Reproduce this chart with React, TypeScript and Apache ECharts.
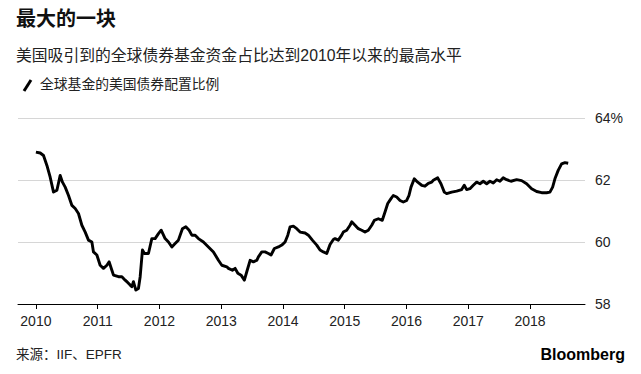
import React, { useEffect, useRef } from "react";
import * as echarts from "echarts";

const years = [
  2010.000, 2010.070, 2010.123, 2010.178, 2010.231, 2010.285, 2010.340, 2010.393, 2010.430, 2010.474,
  2010.528, 2010.583, 2010.636, 2010.689, 2010.744, 2010.798, 2010.851, 2010.906, 2010.932, 2010.987,
  2011.040, 2011.094, 2011.149, 2011.186, 2011.230, 2011.256, 2011.337, 2011.392, 2011.445, 2011.472,
  2011.498, 2011.526, 2011.553, 2011.579, 2011.618, 2011.660, 2011.688, 2011.725, 2011.757, 2011.822,
  2011.877, 2011.930, 2011.984, 2012.028, 2012.092, 2012.146, 2012.201, 2012.254, 2012.307, 2012.372,
  2012.427, 2012.481, 2012.524, 2012.578, 2012.631, 2012.712, 2012.793, 2012.874, 2012.955, 2013.010,
  2013.091, 2013.117, 2013.181, 2013.225, 2013.269, 2013.322, 2013.375, 2013.414, 2013.468, 2013.521,
  2013.576, 2013.602, 2013.657, 2013.710, 2013.764, 2013.807, 2013.861, 2013.926, 2013.981, 2014.034,
  2014.078, 2014.115, 2014.168, 2014.223, 2014.277, 2014.358, 2014.411, 2014.476, 2014.547, 2014.600,
  2014.654, 2014.709, 2014.762, 2014.816, 2014.843, 2014.896, 2014.951, 2014.977, 2015.032, 2015.086,
  2015.113, 2015.167, 2015.220, 2015.275, 2015.328, 2015.382, 2015.437, 2015.479, 2015.544, 2015.608,
  2015.652, 2015.696, 2015.749, 2015.786, 2015.841, 2015.895, 2015.948, 2016.003, 2016.040, 2016.073,
  2016.126, 2016.181, 2016.246, 2016.299, 2016.353, 2016.408, 2016.434, 2016.505, 2016.558, 2016.612,
  2016.650, 2016.731, 2016.812, 2016.893, 2016.935, 2016.974, 2017.027, 2017.081, 2017.136, 2017.189,
  2017.243, 2017.298, 2017.351, 2017.405, 2017.460, 2017.513, 2017.566, 2017.621, 2017.691, 2017.783,
  2017.864, 2017.945, 2018.026, 2018.107, 2018.188, 2018.269, 2018.322, 2018.366, 2018.403, 2018.456,
  2018.511, 2018.565, 2018.618,
];

const share = [
  62.90, 62.87, 62.79, 62.47, 62.09, 61.61, 61.67, 62.15, 61.93, 61.77,
  61.50, 61.18, 61.08, 60.92, 60.54, 60.32, 60.06, 60.00, 59.68, 59.58,
  59.25, 59.15, 59.25, 59.36, 59.09, 58.93, 58.88, 58.88, 58.77, 58.72,
  58.67, 58.61, 58.56, 58.72, 58.45, 58.50, 58.88, 59.74, 59.63, 59.63,
  60.11, 60.11, 60.27, 60.38, 60.11, 60.00, 59.84, 59.95, 60.06, 60.43,
  60.49, 60.38, 60.22, 60.22, 60.11, 60.00, 59.84, 59.68, 59.41, 59.25,
  59.20, 59.15, 59.09, 59.15, 58.99, 58.93, 58.77, 59.04, 59.41, 59.36,
  59.41, 59.52, 59.68, 59.68, 59.63, 59.58, 59.79, 59.84, 59.90, 60.00,
  60.22, 60.49, 60.51, 60.43, 60.32, 60.29, 60.22, 60.06, 59.90, 59.74,
  59.68, 59.63, 59.92, 60.08, 60.11, 60.06, 60.22, 60.32, 60.38, 60.54,
  60.65, 60.54, 60.43, 60.38, 60.32, 60.38, 60.54, 60.70, 60.75, 60.70,
  60.97, 61.24, 61.40, 61.50, 61.45, 61.34, 61.29, 61.34, 61.50, 61.77,
  62.04, 61.93, 61.83, 61.80, 61.89, 61.93, 61.99, 62.07, 61.88, 61.61,
  61.56, 61.61, 61.64, 61.69, 61.83, 61.69, 61.72, 61.83, 61.93, 61.88,
  61.96, 61.88, 61.96, 61.90, 62.01, 61.96, 62.07, 62.01, 61.96, 62.01,
  61.98, 61.88, 61.72, 61.63, 61.59, 61.59, 61.61, 61.77, 62.04, 62.31,
  62.52, 62.56, 62.54,
];

const yearTicks = [2010, 2011, 2012, 2013, 2014, 2015, 2016, 2017, 2018];
const yTicks = [58, 60, 62, 64];

const titleText = "最大的一块";
const subtitleText = "美国吸引到的全球债券基金资金占比达到2010年以来的最高水平";
const legendText = "全球基金的美国债券配置比例";
const sourceText = "来源：IIF、EPFR";

const FONT = '"Liberation Sans", "Noto Sans CJK SC", sans-serif';

export default function App() {
  const ref = useRef<HTMLDivElement>(null);
  useEffect(() => {
    document.body.style.margin = "0";
    const chart = echarts.init(ref.current!, null, { renderer: "svg" });
    const data = years.map((y, i) => [y, share[i]]);
    chart.setOption({
      animation: false,
      backgroundColor: "#ffffff",
      textStyle: { fontFamily: FONT },
      grid: { left: 18, right: 56, top: 118, bottom: 70 },
      xAxis: {
        type: "value",
        min: 2009.71,
        max: 2018.89,
        axisLine: { show: true, lineStyle: { color: "#000", width: 1 } },
        axisTick: {
          show: true,
          customValues: yearTicks,
          length: 5,
          lineStyle: { color: "#000", width: 1 },
        },
        axisLabel: {
          customValues: yearTicks,
          formatter: (v: number) => String(Math.round(v)),
          color: "#222",
          fontSize: 14,
          margin: 10,
          fontFamily: FONT,
        },
        splitLine: { show: false },
      },
      yAxis: {
        type: "value",
        position: "right",
        min: 58,
        max: 64,
        interval: 2,
        axisLine: { show: false },
        axisTick: { show: false },
        axisLabel: {
          formatter: (v: number) => (v === yTicks[yTicks.length - 1] ? v + "%" : String(v)),
          color: "#222",
          fontSize: 14,
          margin: 10,
          fontFamily: FONT,
        },
        splitLine: { show: true, lineStyle: { color: "#d6d6d6", width: 1 } },
      },
      series: [
        {
          type: "line",
          data,
          showSymbol: false,
          symbol: "none",
          lineStyle: { color: "#000", width: 2.9, join: "round" },
        },
      ],
      graphic: [
        {
          type: "text",
          left: 16,
          top: 9,
          style: { text: titleText, font: `bold 20px ${FONT}`, fill: "#111" },
        },
        {
          type: "text",
          left: 16,
          top: 48,
          style: { text: subtitleText, font: `15.8px ${FONT}`, fill: "#222" },
        },
        {
          type: "line",
          shape: { x1: 24, y1: 91, x2: 31, y2: 80 },
          style: { stroke: "#000", lineWidth: 3, lineCap: "butt" },
        },
        {
          type: "text",
          left: 40,
          top: 78,
          style: { text: legendText, font: `13.8px ${FONT}`, fill: "#222" },
        },
        {
          type: "text",
          left: 16,
          top: 348,
          style: { text: sourceText, font: `13.5px ${FONT}`, fill: "#222" },
        },
        {
          type: "text",
          right: 16,
          top: 346,
          style: { text: "Bloomberg", font: `bold 16px ${FONT}`, fill: "#000" },
        },
      ],
    });
    return () => chart.dispose();
  }, []);
  return (
    <div
      ref={ref}
      style={{ position: "fixed", left: 0, top: 0, width: 641, height: 374 }}
    />
  );
}
